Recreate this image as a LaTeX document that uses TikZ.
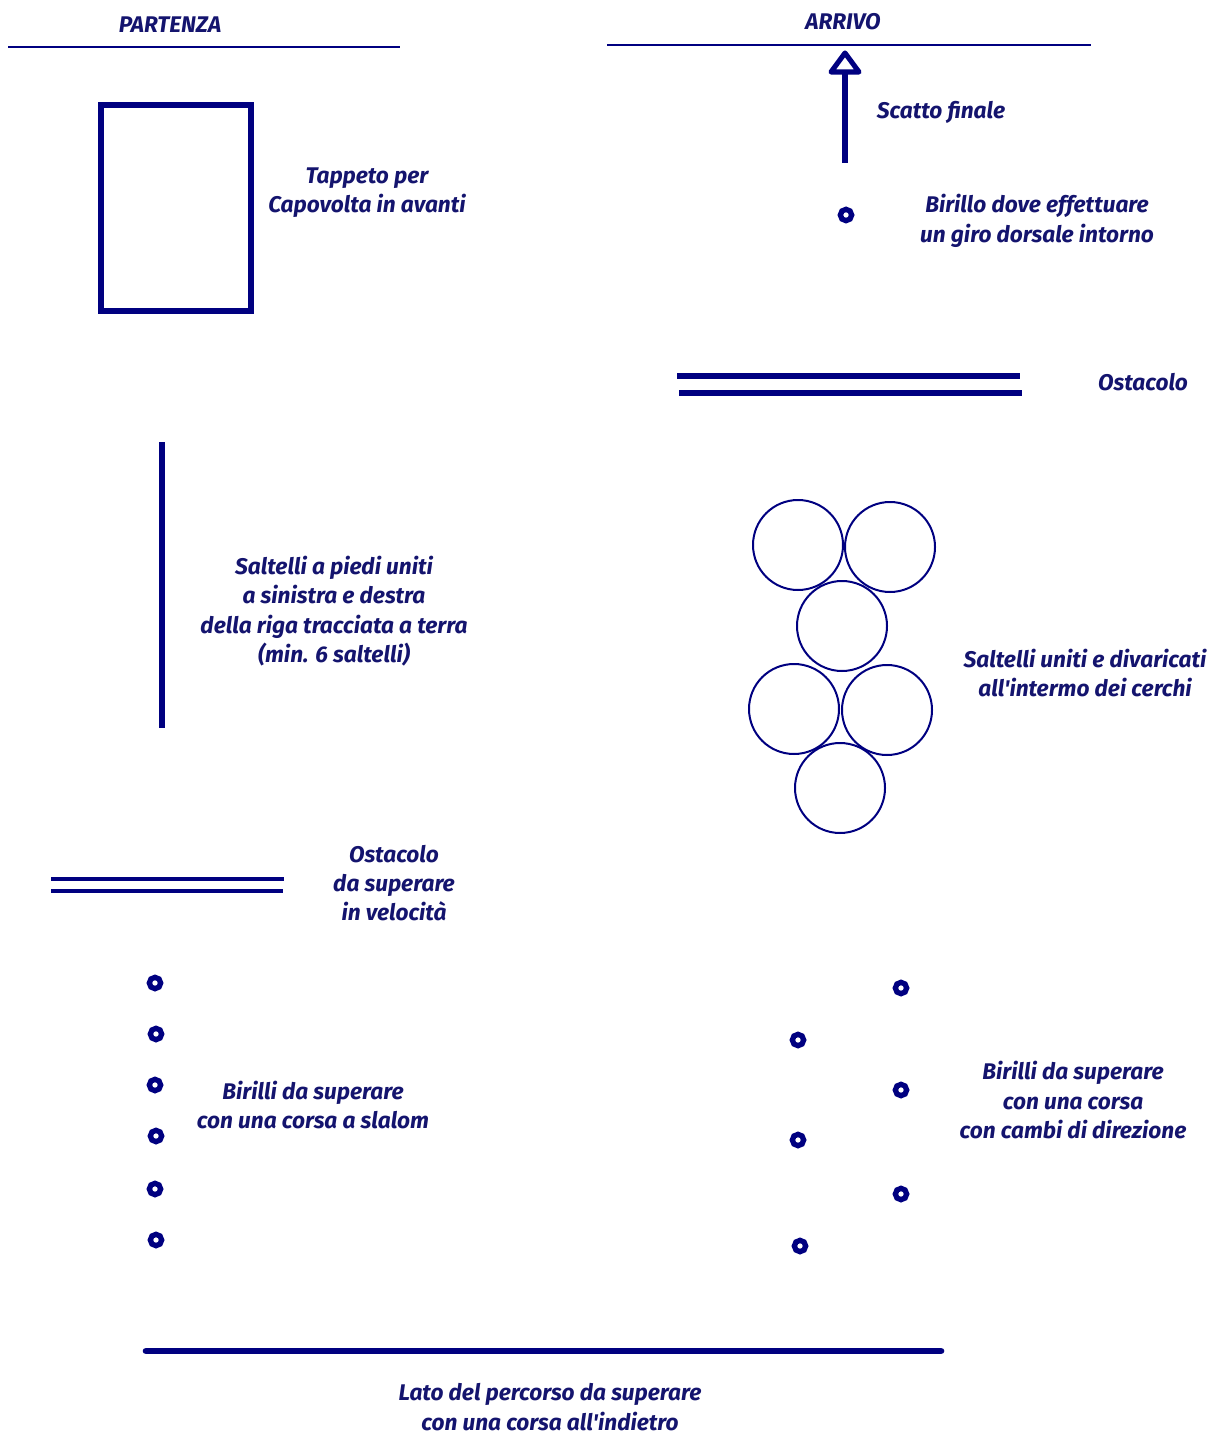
\documentclass[tikz,border=0pt]{standalone}
\usepackage{fontspec}
\setmainfont{Fira Sans}
\definecolor{navyline}{RGB}{0,0,128}
\definecolor{navytext}{RGB}{20,20,110}
\tikzset{
  lbl/.style={inner sep=0pt, align=center, text=navytext, font=\fontsize{17}{22}\selectfont\bfseries\itshape},
  birillo/.style={circle, draw=navyline, line width=4pt, minimum size=8.5pt, inner sep=0pt},
  hoop/.style={circle, draw=navyline, line width=1.5pt, minimum size=67.5pt, inner sep=0pt},
  thinline/.style={draw=navyline, line width=1.5pt},
  thickline/.style={draw=navyline, line width=3.8pt},
}
\begin{document}
\begin{tikzpicture}[x=0.75pt,y=-0.75pt]
\useasboundingbox (0,0) rectangle (1213,1437);
% start / finish
\node[lbl] (partenza) at (170,25) {PARTENZA};
\draw[thinline] (8,47) -- (400,47);
\node[lbl] (arrivo) at (843,22) {ARRIVO};
\draw[thinline] (607,45) -- (1091,45);
% final sprint arrow
\coordinate (arrtail) at (845,163);
\coordinate (arrtip) at (845,53);
\draw[draw=navyline, line width=3.8pt] (arrtail) -- (845,70);
\draw[draw=navyline, line width=3.8pt, line join=round] (arrtip) -- (831,72) -- (859,72) -- cycle;
\node[lbl] (scatto) at (941,112) {Scatto finale};
\node[birillo] (btop) at (846,215) {};
\node[lbl] (birillodove) at (1037,221) {Birillo dove effettuare\\un giro dorsale intorno};
% mat
\draw[draw=navyline, line width=3.8pt] (101,105) rectangle (251,311);
\node[lbl] (tappeto) at (367,193) {Tappeto per\\Capovolta in avanti};
% right obstacle
\draw[thickline] (677,376) -- (1020,376);
\draw[thickline] (679,393) -- (1022,393);
\node[lbl] (ostacolo1) at (1143,382) {Ostacolo};
% jump line
\draw[thickline] (162,442) -- (162,728);
\node[lbl] (saltelli) at (334,611) {Saltelli a piedi uniti\\a sinistra e destra\\della riga tracciata a terra\\(min. 6 saltelli)};
% hoops
\node[hoop] (c1) at (798,545) {};
\node[hoop] (c2) at (890,547) {};
\node[hoop] (c3) at (842,626) {};
\node[hoop] (c4) at (794,709) {};
\node[hoop] (c5) at (887,710) {};
\node[hoop] (c6) at (840,788) {};
\node[lbl] (cerchi) at (1085,673) {Saltelli uniti e divaricati\\all\textquotesingle intermo dei cerchi};
% left obstacle
\draw[draw=navyline, line width=3pt] (51,879) -- (284,879);
\draw[draw=navyline, line width=3pt] (51,891) -- (283,891);
\node[lbl] (ostacolo2) at (394,883) {Ostacolo\\da superare\\in velocità};
% slalom cones
\node[birillo] (s1) at (155,983) {};
\node[birillo] (s2) at (156,1034) {};
\node[birillo] (s3) at (155,1085) {};
\node[birillo] (s4) at (156,1136) {};
\node[birillo] (s5) at (155,1189) {};
\node[birillo] (s6) at (156,1240) {};
\node[lbl] (slalom) at (313,1105) {Birilli da superare\\con una corsa a slalom};
% zigzag cones
\node[birillo] (z1) at (901,988) {};
\node[birillo] (z2) at (798,1040) {};
\node[birillo] (z3) at (901,1090) {};
\node[birillo] (z4) at (798,1140) {};
\node[birillo] (z5) at (901,1194) {};
\node[birillo] (z6) at (800,1246) {};
\node[lbl] (cambi) at (1073,1100) {Birilli da superare\\con una corsa\\con cambi di direzione};
% backward run side
\draw[draw=navyline, line width=5pt, line cap=round] (146,1351) -- (941,1351);
\node[lbl] (lato) at (550,1407) {Lato del percorso da superare\\con una corsa all\textquotesingle indietro};
\end{tikzpicture}
\end{document}
